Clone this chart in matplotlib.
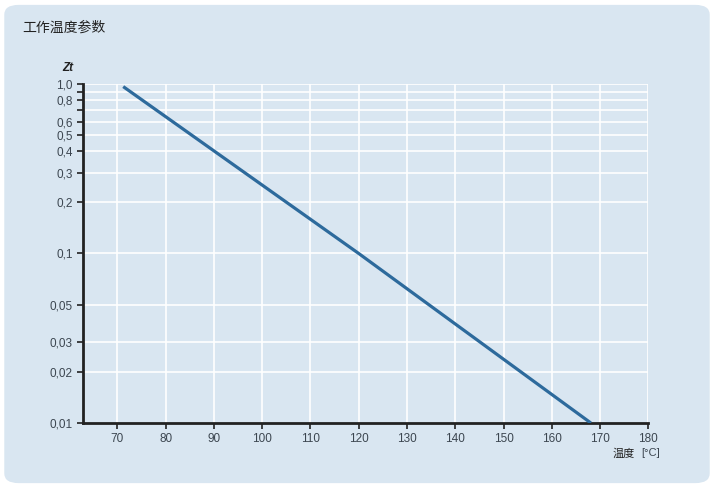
import matplotlib
matplotlib.use("Agg")
import matplotlib.pyplot as plt
from matplotlib.patches import FancyBboxPatch

plt.rcParams['font.family'] = ['Liberation Sans', 'Noto Sans CJK SC', 'DejaVu Sans']

# data
temp = [71.2, 120.0, 168.1]
zt = [0.965, 0.1, 0.01]

y_ticks = [1.0, 0.8, 0.6, 0.5, 0.4, 0.3, 0.2, 0.1, 0.05, 0.03, 0.02, 0.01]
y_labels = ['1,0', '0,8', '0,6', '0,5', '0,4', '0,3', '0,2', '0,1', '0,05', '0,03', '0,02', '0,01']
y_minor = [0.9, 0.7]
y_grid = [1.0, 0.9, 0.8, 0.7, 0.6, 0.5, 0.4, 0.3, 0.2, 0.1, 0.05, 0.03, 0.02]
x_ticks = [70, 80, 90, 100, 110, 120, 130, 140, 150, 160, 170, 180]

panel = '#d9e6f1'
text_col = '#3c4650'
line_col = '#2d6a9c'

fig = plt.figure(figsize=(7.14, 4.88), dpi=100)
fig.patch.set_facecolor('white')
bg = FancyBboxPatch((0.006, 0.01), 0.988, 0.98, boxstyle='round,pad=0,rounding_size=0.02',
                    transform=fig.transFigure, facecolor=panel, edgecolor='none', zorder=-10)
fig.patches.append(bg)

ax = fig.add_axes([0.1158, 0.1332, 0.7922, 0.6947])
ax.set_zorder(1)
ax.set_facecolor(panel)
ax.set_yscale('log')
ax.set_xlim(62.8, 180)
ax.set_ylim(0.01, 1.0)

for g in y_grid:
    ax.axhline(g, color='white', lw=1.2, zorder=1)
for t in x_ticks:
    ax.axvline(t, color='white', lw=1.2, zorder=1)

ax.plot(temp, zt, color=line_col, lw=2.3, zorder=3, solid_capstyle='butt')

ax.set_yticks(y_ticks)
ax.set_yticklabels(y_labels)
ax.set_yticks(y_minor, minor=True)
ax.yaxis.set_minor_formatter(plt.NullFormatter())
ax.set_xticks(x_ticks)
ax.set_xticklabels([str(t) for t in x_ticks])

ax.tick_params(axis='both', which='both', direction='out', length=4, width=1.2,
               color='#222222', labelcolor=text_col, labelsize=8.5, pad=3)

for s in ['top', 'right']:
    ax.spines[s].set_visible(False)
for s in ['left', 'bottom']:
    ax.spines[s].set_linewidth(2)
    ax.spines[s].set_color('#222222')

fig.text(0.031, 0.944, '工作温度参数', fontsize=10, color='#222222', va='center', ha='left',
         family=['Noto Sans CJK SC', 'DejaVu Sans'])
fig.text(0.095, 0.861, 'Zt', fontsize=8.5, fontweight='bold', style='italic',
         color='#222222', va='center', ha='center')
fig.text(0.858, 0.071, '温度', fontsize=8, color='#222222', va='center', ha='left',
         family=['Noto Sans CJK SC', 'DejaVu Sans'])
fig.text(0.924, 0.071, '[°C]', fontsize=8, color=text_col, va='center', ha='right')

fig.savefig('out.png', dpi=100, facecolor='white')
